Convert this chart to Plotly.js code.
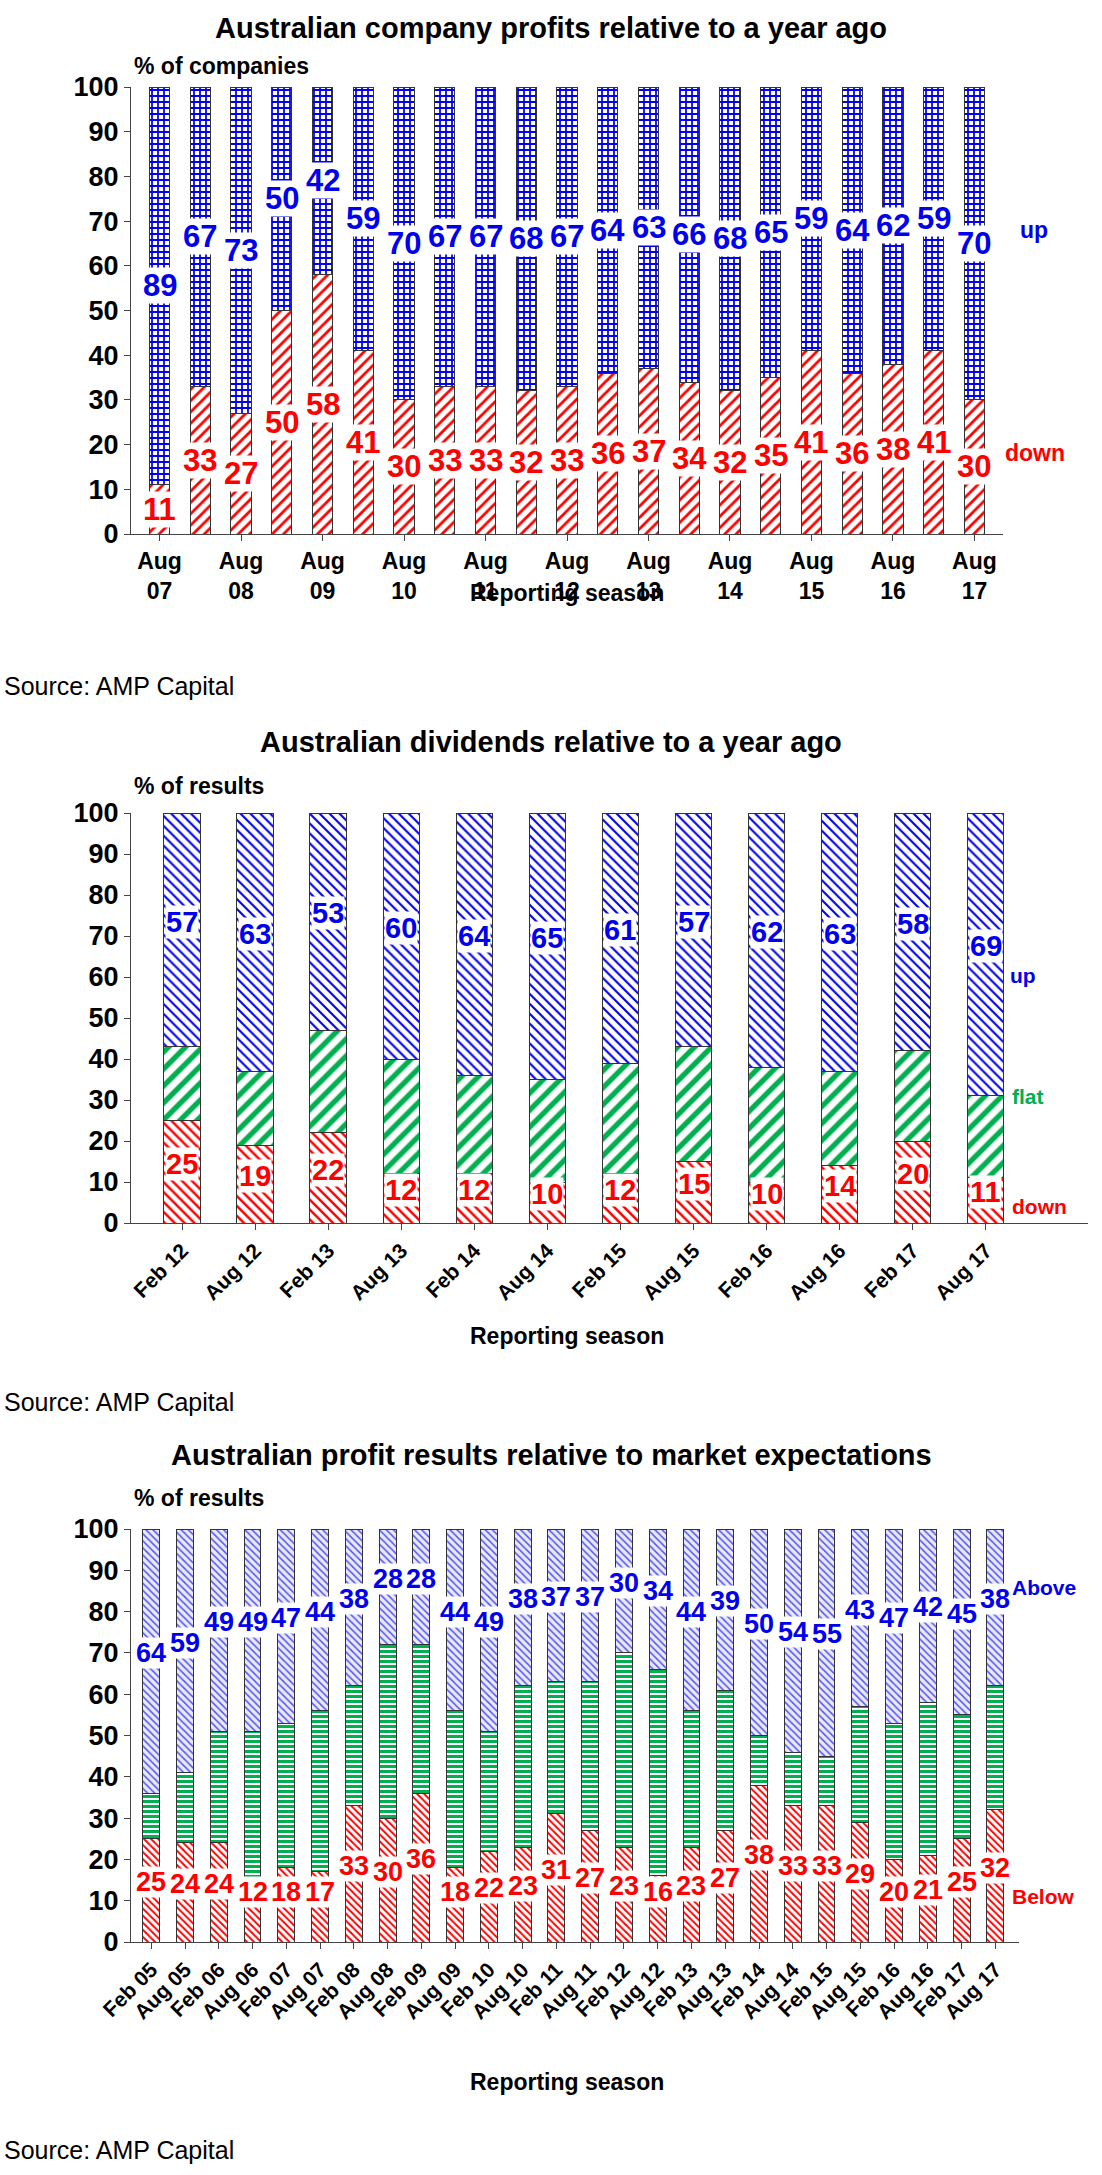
<!DOCTYPE html>
<html>
<head>
<script src="https://cdn.plot.ly/plotly-3.0.1.min.js"></script>
<style>body{margin:0}</style>
</head>
<body>
<div id="chart" style="width:1102px;height:2175px"></div>
<script>
// chart 1: company profits
let seasons1 = ["Aug 07","Feb 08","Aug 08","Feb 09","Aug 09","Feb 10","Aug 10","Feb 11","Aug 11","Feb 12","Aug 12",
  "Feb 13","Aug 13","Feb 14","Aug 14","Feb 15","Aug 15","Feb 16","Aug 16","Feb 17","Aug 17"]
let down1 = [11,33,27,50,58,41,30,33,33,32,33,36,37,34,32,35,41,36,38,41,30]
let up1 = [89,67,73,50,42,59,70,67,67,68,67,64,63,66,68,65,59,64,62,59,70]
let ticks1 = ["Aug 07","Aug 08","Aug 09","Aug 10","Aug 11","Aug 12","Aug 13","Aug 14","Aug 15","Aug 16","Aug 17"]

// chart 2: dividends
let seasons2 = ["Feb 12","Aug 12","Feb 13","Aug 13","Feb 14","Aug 14","Feb 15","Aug 15","Feb 16","Aug 16","Feb 17","Aug 17"]
let down2 = [25,19,22,12,12,10,12,15,10,14,20,11]
let up2 = [57,63,53,60,64,65,61,57,62,63,58,69]
let flat2 = seasons2.map((s,i) => 100 - up2[i] - down2[i])

// chart 3: results vs expectations
let seasons3 = ["Feb 05","Aug 05","Feb 06","Aug 06","Feb 07","Aug 07","Feb 08","Aug 08","Feb 09","Aug 09","Feb 10","Aug 10","Feb 11",
  "Aug 11","Feb 12","Aug 12","Feb 13","Aug 13","Feb 14","Aug 14","Feb 15","Aug 15","Feb 16","Aug 16","Feb 17","Aug 17"]
let below3 = [25,24,24,12,18,17,33,30,36,18,22,23,31,27,23,16,23,27,38,33,33,29,20,21,25,32]
let above3 = [64,59,49,49,47,44,38,28,28,44,49,38,37,37,30,34,44,39,50,54,55,43,47,42,45,38]
let inline3 = seasons3.map((s,i) => 100 - above3[i] - below3[i])

const BLUE = "#0000ee", RED = "#ff0000", GREEN = "#00b050"
const W = 1102, H = 2175
const fx = px => px / W, fy = px => 1 - px / H
const FONT = "Liberation Sans, Arial"

function bars(x, y, xa, ya, shape, fg, bg, size, sol){
  return {type: "bar", x: x, y: y, xaxis: xa, yaxis: ya, width: 0.5,
    marker: {color: bg, line: {color: "#333", width: 1},
      pattern: {shape: shape, fgcolor: fg, bgcolor: bg, size: size, solidity: sol, fillmode: "replace"}},
    hoverinfo: "skip", showlegend: false}
}

let data = [
  bars(seasons1, down1, "x", "y", "/", RED, "white", 8, 0.35),
  bars(seasons1, up1, "x", "y", "+", BLUE, "white", 6, 0.5),
  bars(seasons2, down2, "x2", "y2", "\\", RED, "white", 7, 0.35),
  bars(seasons2, flat2, "x2", "y2", "/", GREEN, "white", 12, 0.45),
  bars(seasons2, up2, "x2", "y2", "\\", BLUE, "white", 7, 0.3),
  bars(seasons3, below3, "x3", "y3", "\\", RED, "white", 5, 0.4),
  bars(seasons3, inline3, "x3", "y3", "-", GREEN, "white", 5, 0.6),
  bars(seasons3, above3, "x3", "y3", "\\", "#5555ee", "#e8e8ff", 5, 0.3)
]

let ann = []
function label(xa, ya, x, y, t, c, size){
  ann.push({xref: xa, yref: ya, x: x, y: y, text: "<b>" + t + "</b>", showarrow: false,
    font: {family: FONT, size: size, color: c}, bgcolor: "white", borderpad: 0})
}
seasons1.forEach((s,i) => {
  label("x", "y", s, down1[i] / 2, down1[i], RED, 31)
  label("x", "y", s, down1[i] + up1[i] / 2, up1[i], BLUE, 31)
})
seasons2.forEach((s,i) => {
  label("x2", "y2", s, Math.max(down2[i] / 2 + 2, 5), down2[i], RED, 29)
  label("x2", "y2", s, 100 - up2[i] / 2 + 2, up2[i], BLUE, 29)
})
seasons3.forEach((s,i) => {
  label("x3", "y3", s, Math.max(below3[i] / 2 + 2, 12), below3[i], RED, 27)
  label("x3", "y3", s, 100 - above3[i] / 2 + 2, above3[i], BLUE, 27)
})

function txt(x, y, t, size, c, anchor){
  ann.push({xref: "paper", yref: "paper", x: fx(x), y: fy(y), text: t, showarrow: false,
    xanchor: anchor || "left", yanchor: "middle", font: {family: FONT, size: size, color: c || "black"}})
}
txt(551, 28, "<b>Australian company profits relative to a year ago</b>", 29, "black", "center")
txt(132, 66, "<b>% of companies</b>", 23)
txt(1018, 230, "<b>up</b>", 23, BLUE)
txt(1003, 453, "<b>down</b>", 23, RED)
txt(2, 686, "Source: AMP Capital", 25)

txt(551, 742, "<b>Australian dividends relative to a year ago</b>", 29, "black", "center")
txt(132, 786, "<b>% of results</b>", 23)
txt(1008, 975, "<b>up</b>", 21, BLUE)
txt(1010, 1096, "<b>flat</b>", 21, GREEN)
txt(1010, 1206, "<b>down</b>", 21, RED)
txt(2, 1402, "Source: AMP Capital", 25)

txt(551, 1455, "<b>Australian profit results relative to market expectations</b>", 29, "black", "center")
txt(132, 1498, "<b>% of results</b>", 23)
txt(1010, 1587, "<b>Above</b>", 21, BLUE)
txt(1010, 1896, "<b>Below</b>", 21, RED)
txt(2, 2150, "Source: AMP Capital", 25)

;[593, 1336, 2082].forEach(y => txt(567, y, "<b>Reporting season</b>", 23, "black", "center"))

const tickFont = {family: FONT, size: 27, color: "black", weight: "bold"}
function yax(d){
  return {domain: d, range: [0, 100], dtick: 10, showgrid: false, zeroline: false, showline: true,
    linecolor: "#444", ticks: "outside", ticklen: 6, tickfont: tickFont, fixedrange: true}
}
function xax(anchor, d, extra){
  return Object.assign({domain: d, anchor: anchor, type: "category", showline: true, linecolor: "#444",
    showgrid: false, ticks: "outside", ticklen: 6, tickfont: {family: FONT, size: 21, color: "black", weight: "bold"}}, extra)
}

let layout = {
  width: W, height: H, margin: {l: 0, r: 0, t: 0, b: 0}, barmode: "stack",
  paper_bgcolor: "white", plot_bgcolor: "white", annotations: ann,
  xaxis: xax("y", [fx(131), fx(1003)], {tickvals: ticks1, ticktext: ticks1.map(t => t.replace(" ", "<br>")), range: [-0.7, 20.7],
    tickfont: {family: FONT, size: 23, color: "black", weight: "bold"}}),
  yaxis: yax([fy(534), fy(87)]),
  xaxis2: xax("y2", [fx(131), fx(1088)], {tickangle: -45, range: [-0.7, 12.4]}),
  yaxis2: yax([fy(1223), fy(813)]),
  xaxis3: xax("y3", [fx(131), fx(1019)], {tickangle: -45, range: [-0.6, 25.7]}),
  yaxis3: yax([fy(1942), fy(1529)])
}

Plotly.newPlot("chart", data, layout, {staticPlot: true})
</script>
</body>
</html>
